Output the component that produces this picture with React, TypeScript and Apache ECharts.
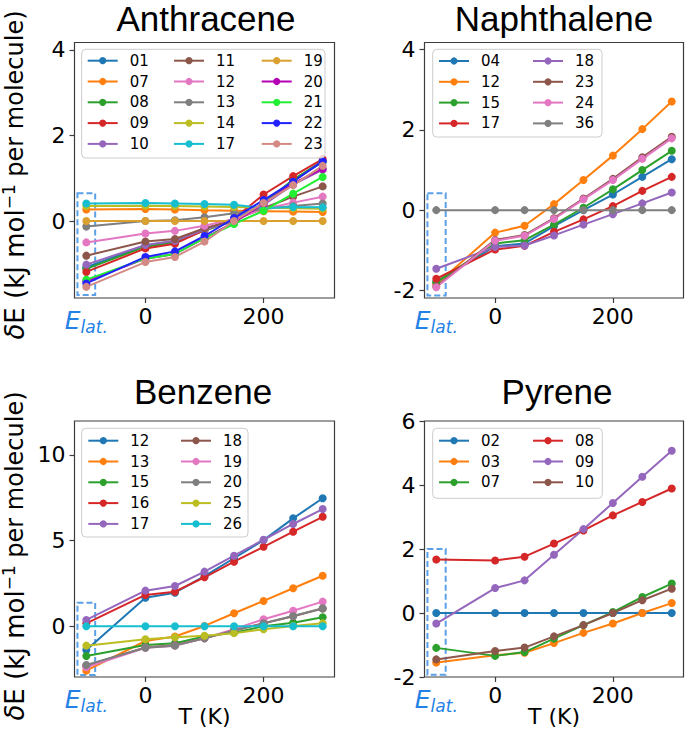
import React, { useEffect, useRef } from 'react';
import * as echarts from 'echarts';

// ---------- data ----------
const temps = [-100, 0, 50, 100, 150, 200, 250, 300]; // -100 = E_lat.

const anthraceneNames = ['01', '07', '08', '09', '10', '11', '12', '13', '14', '17', '19', '20', '21', '22', '23'];
const anthraceneValues = [
  [-1.08, -0.57, -0.47, -0.2, 0.02, 0.42, 0.95, 1.38],
  [0.27, 0.28, 0.27, 0.25, 0.24, 0.23, 0.22, 0.21],
  [-1.12, -0.6, -0.5, -0.22, 0.0, 0.4, 0.97, 1.4],
  [-1.19, -0.64, -0.53, -0.21, 0.06, 0.62, 1.05, 1.45],
  [-1.02, -0.56, -0.46, -0.2, 0.0, 0.38, 0.85, 1.2],
  [-0.81, -0.48, -0.42, -0.17, 0.02, 0.3, 0.57, 0.81],
  [-0.5, -0.29, -0.23, -0.11, 0.05, 0.28, 0.43, 0.57],
  [-0.13, 0.0, 0.02, 0.09, 0.18, 0.28, 0.35, 0.41],
  [0.35, 0.36, 0.35, 0.34, 0.33, 0.31, 0.3, 0.29],
  [0.41, 0.42, 0.41, 0.4, 0.38, 0.3, 0.33, 0.32],
  [0, 0, 0, 0, 0, 0, 0, 0],
  [-1.41, -0.88, -0.77, -0.4, -0.03, 0.4, 0.88, 1.22],
  [-1.37, -0.88, -0.77, -0.4, -0.07, 0.24, 0.64, 1.03],
  [-1.46, -0.84, -0.71, -0.35, 0.07, 0.49, 0.92, 1.4],
  [-1.54, -0.96, -0.84, -0.48, 0.0, 0.42, 0.84, 1.29],
];
const anthraceneColors = ['#1f77b4', '#ff7f0e', '#2ca02c', '#d62728', '#9467bd', '#8c564b', '#e377c2', '#7f7f7f', '#bcbd22', '#17becf', '#daa030', '#b400b4', '#22ee33', '#2222ff', '#d48a84'];

const naphthaleneNames = ['04', '12', '15', '17', '18', '23', '24', '36'];
const naphthaleneValues = [
  [-1.79, -0.9, -0.83, -0.4, 0.0, 0.39, 0.83, 1.27],
  [-1.85, -0.56, -0.39, 0.15, 0.75, 1.36, 2.02, 2.71],
  [-1.8, -0.83, -0.75, -0.36, 0.06, 0.52, 1.0, 1.48],
  [-1.71, -0.98, -0.89, -0.54, -0.23, 0.1, 0.48, 0.83],
  [-1.46, -0.92, -0.88, -0.63, -0.36, -0.1, 0.17, 0.44],
  [-1.9, -0.74, -0.62, -0.2, 0.29, 0.78, 1.32, 1.83],
  [-1.92, -0.76, -0.64, -0.22, 0.27, 0.75, 1.28, 1.79],
  [0, 0, 0, 0, 0, 0, 0, 0],
];
const naphthaleneColors = ['#1f77b4', '#ff7f0e', '#2ca02c', '#d62728', '#9467bd', '#8c564b', '#e377c2', '#7f7f7f'];

const benzeneNames = ['12', '13', '15', '16', '17', '18', '19', '20', '25', '26'];
const benzeneValues = [
  [-1.38, 1.67, 1.96, 2.93, 3.97, 5.03, 6.3, 7.47],
  [-2.59, -0.86, -0.6, 0.02, 0.76, 1.48, 2.22, 2.95],
  [-1.73, -1.09, -0.99, -0.6, -0.37, 0.0, 0.21, 0.53],
  [0.17, 1.83, 2.02, 2.86, 3.77, 4.64, 5.52, 6.39],
  [0.37, 2.08, 2.35, 3.19, 4.12, 5.05, 5.97, 6.84],
  [-2.3, -1.23, -1.1, -0.7, -0.25, 0.17, 0.58, 1.03],
  [-2.39, -1.25, -1.13, -0.7, -0.17, 0.41, 0.91, 1.44],
  [-2.26, -1.25, -1.13, -0.7, -0.25, 0.18, 0.6, 1.05],
  [-1.13, -0.76, -0.64, -0.55, -0.4, -0.17, 0.02, 0.17],
  [0, 0, 0, 0, 0, 0, 0, 0],
];
const benzeneColors = ['#1f77b4', '#ff7f0e', '#2ca02c', '#d62728', '#9467bd', '#8c564b', '#e377c2', '#7f7f7f', '#bcbd22', '#17becf'];

const pyreneNames = ['02', '03', '07', '08', '09', '10'];
const pyreneValues = [
  [0, 0, 0, 0, 0, 0, 0, 0],
  [-1.55, -1.32, -1.24, -0.94, -0.62, -0.33, 0.0, 0.31],
  [-1.09, -1.34, -1.22, -0.8, -0.38, 0.03, 0.5, 0.92],
  [1.67, 1.64, 1.76, 2.17, 2.58, 3.05, 3.47, 3.89],
  [-0.33, 0.78, 1.02, 1.82, 2.62, 3.44, 4.26, 5.07],
  [-1.45, -1.19, -1.08, -0.73, -0.38, 0.0, 0.4, 0.76],
];
const pyreneColors = ['#1f77b4', '#ff7f0e', '#2ca02c', '#d62728', '#9467bd', '#8c564b'];

const xTickValues = [0, 200];
const xLabelValues = [-100, 0, 200];
const anthraceneYTicks = [0, 2, 4];
const naphthaleneYTicks = [-2, 0, 2, 4];
const benzeneYTicks = [0, 5, 10];
const pyreneYTicks = [-2, 0, 2, 4, 6];

// E_lat. highlight boxes [x0, y0, x1, y1]
const anthraceneBox = [-115, -1.73, -85, 0.65];
const naphthaleneBox = [-115, -2.13, -84, 0.42];
const benzeneBox = [-115, -2.84, -85, 1.38];
const pyreneBox = [-115, -1.93, -84, 2.0];

// ---------- layout / style ----------
const BLUE = '#2381e6';
const BOX_BLUE = '#5aa0e6';
const FONT = 'DejaVu Sans';

const panels = [
  {
    key: 'A', title: 'Anthracene', names: anthraceneNames, values: anthraceneValues, colors: anthraceneColors,
    yTicks: anthraceneYTicks, yMin: -1.8, yMax: 4.175, box: anthraceneBox,
    grid: { left: 74.5, top: 42.5, width: 260, height: 255.5 },
    titlePos: [206, 18], legendCols: [86.7, 173, 260.7], legendRows: 5, legendRow0: 60.7,
    frame: { x: 81.7, y: 49.3, width: 243.3, height: 108.7 },
  },
  {
    key: 'N', title: 'Naphthalene', names: naphthaleneNames, values: naphthaleneValues, colors: naphthaleneColors,
    yTicks: naphthaleneYTicks, yMin: -2.19, yMax: 4.18, box: naphthaleneBox,
    grid: { left: 424.5, top: 42.5, width: 259, height: 255.5 },
    titlePos: [554, 18], legendCols: [438, 532], legendRows: 4, legendRow0: 61,
    frame: { x: 432.7, y: 49.3, width: 169.3, height: 87.7 },
  },
  {
    key: 'B', title: 'Benzene', names: benzeneNames, values: benzeneValues, colors: benzeneColors,
    yTicks: benzeneYTicks, yMin: -2.96, yMax: 11.98, box: benzeneBox,
    grid: { left: 74.5, top: 421, width: 260, height: 256 },
    titlePos: [203, 391], legendCols: [87.3, 180], legendRows: 5, legendRow0: 440.7,
    frame: { x: 81.7, y: 428.3, width: 166.3, height: 108.7 },
  },
  {
    key: 'P', title: 'Pyrene', names: pyreneNames, values: pyreneValues, colors: pyreneColors,
    yTicks: pyreneYTicks, yMin: -2, yMax: 6, box: pyreneBox,
    grid: { left: 424.5, top: 421, width: 259, height: 256 },
    titlePos: [557, 391], legendCols: [438, 532], legendRows: 3, legendRow0: 440.7,
    frame: { x: 432.7, y: 428.3, width: 169.6, height: 70 },
  },
];

function buildOption() {
  const grid: any[] = [];
  const xAxis: any[] = [];
  const yAxis: any[] = [];
  const series: any[] = [];
  const legend: any[] = [];
  const graphic: any[] = [];

  panels.forEach((p, pi) => {
    grid.push({ ...p.grid, show: true, borderColor: '#3c3c3c', borderWidth: 1.2, backgroundColor: 'transparent' });
    xAxis.push({
      type: 'value', gridIndex: pi, min: -120, max: 320, position: 'bottom',
      splitLine: { show: false },
      axisLine: { show: false, onZero: false },
      axisTick: { show: true, customValues: xTickValues, length: 5, lineStyle: { color: '#3c3c3c', width: 1.2 } },
      axisLabel: {
        customValues: xLabelValues, margin: 7, fontSize: 22, color: '#000', fontFamily: FONT,
        formatter: (v: number) => (v === -100 ? '{e|E}{s|lat.}' : String(v)),
        rich: {
          e: { fontSize: 25, fontStyle: 'italic', color: BLUE, fontFamily: FONT, lineHeight: 30, verticalAlign: 'middle' },
          s: { fontSize: 17, fontStyle: 'italic', color: BLUE, fontFamily: FONT, lineHeight: 14, verticalAlign: 'bottom' },
        },
      },
    });
    yAxis.push({
      type: 'value', gridIndex: pi, min: p.yMin, max: p.yMax, position: 'left',
      splitLine: { show: false },
      axisLine: { show: false, onZero: false },
      axisTick: { show: true, customValues: p.yTicks, length: 5, lineStyle: { color: '#3c3c3c', width: 1.2 } },
      axisLabel: { customValues: p.yTicks, margin: 9, fontSize: 22, color: '#000', fontFamily: FONT },
    });

    p.names.forEach((n, i) => {
      const color = p.colors[i];
      const s: any = {
        type: 'line', name: `${p.key}:${n}`, xAxisIndex: pi, yAxisIndex: pi,
        data: temps.map((t, j) => [t, p.values[i][j]]),
        symbol: 'circle', symbolSize: 8, showSymbol: true,
        color, lineStyle: { width: 2, color }, itemStyle: { color },
        emphasis: { disabled: true }, z: 2,
      };
      if (i === 0) {
        s.markArea = {
          silent: true,
          itemStyle: { color: 'rgba(0,0,0,0)', borderColor: BOX_BLUE, borderWidth: 2, borderType: [6, 3] },
          data: [[{ coord: [p.box[0], p.box[3]] }, { coord: [p.box[2], p.box[1]] }]],
        };
      }
      series.push(s);
    });

    // legends: one per column
    p.legendCols.forEach((cx, ci) => {
      const names = p.names.slice(ci * p.legendRows, (ci + 1) * p.legendRows);
      legend.push({
        data: names.map((n) => `${p.key}:${n}`),
        orient: 'vertical', left: cx, top: p.legendRow0 - 8, padding: 0, itemGap: 4.8,
        itemWidth: 30, itemHeight: 9, selectedMode: false, z: 5,
        formatter: (name: string) => name.split(':')[1],
        textStyle: { fontSize: 15, lineHeight: 16, color: '#000', fontFamily: FONT, padding: [0, 0, 0, 7] },
      });
    });

    graphic.push({
      type: 'rect', z: 3,
      shape: { ...p.frame, r: 4 },
      style: { fill: 'rgba(255,255,255,0.8)', stroke: '#cccccc', lineWidth: 1 },
    });
    graphic.push({
      type: 'text', x: p.titlePos[0], y: p.titlePos[1], z: 5,
      style: {
        text: p.title, fontSize: 35, lineHeight: 34, fontFamily: 'Liberation Sans', fill: '#000',
        align: 'center', verticalAlign: 'middle',
      },
    });
  });

  const yLabelRich = {
    d: { fontSize: 26, fontStyle: 'italic', fontFamily: FONT, lineHeight: 30, color: '#000' },
    a: { fontSize: 26, fontFamily: FONT, lineHeight: 30, color: '#000' },
    s: { fontSize: 17, fontFamily: FONT, lineHeight: 15, verticalAlign: 'top', color: '#000' },
    b: { fontSize: 24, fontFamily: FONT, lineHeight: 30, color: '#000' },
  };
  [[15, 175], [15, 556]].forEach(([x, y]) => {
    graphic.push({
      type: 'text', x, y, rotation: Math.PI / 2, z: 5,
      style: {
        text: '{d|δ}{a|E (kJ mol}{s|−1}{b| per molecule)}',
        rich: yLabelRich, fill: '#000', align: 'center', verticalAlign: 'middle',
      },
    });
  });
  [[204.5, 716], [554, 716]].forEach(([x, y]) => {
    graphic.push({
      type: 'text', x, y, z: 5,
      style: { text: 'T (K)', fontSize: 22, fontFamily: FONT, fill: '#000', align: 'center', verticalAlign: 'middle' },
    });
  });

  return {
    animation: false,
    backgroundColor: '#ffffff',
    textStyle: { fontFamily: FONT },
    grid, xAxis, yAxis, series, legend, graphic,
  };
}

export default function App() {
  const ref = useRef<HTMLDivElement>(null);
  useEffect(() => {
    if (!ref.current) return;
    const chart = echarts.init(ref.current, undefined, { renderer: 'svg' });
    chart.setOption(buildOption() as any);
    return () => chart.dispose();
  }, []);
  return (
    <div
      ref={ref}
      style={{ position: 'absolute', left: 0, top: 0, width: 685, height: 731, background: '#fff' }}
    />
  );
}
